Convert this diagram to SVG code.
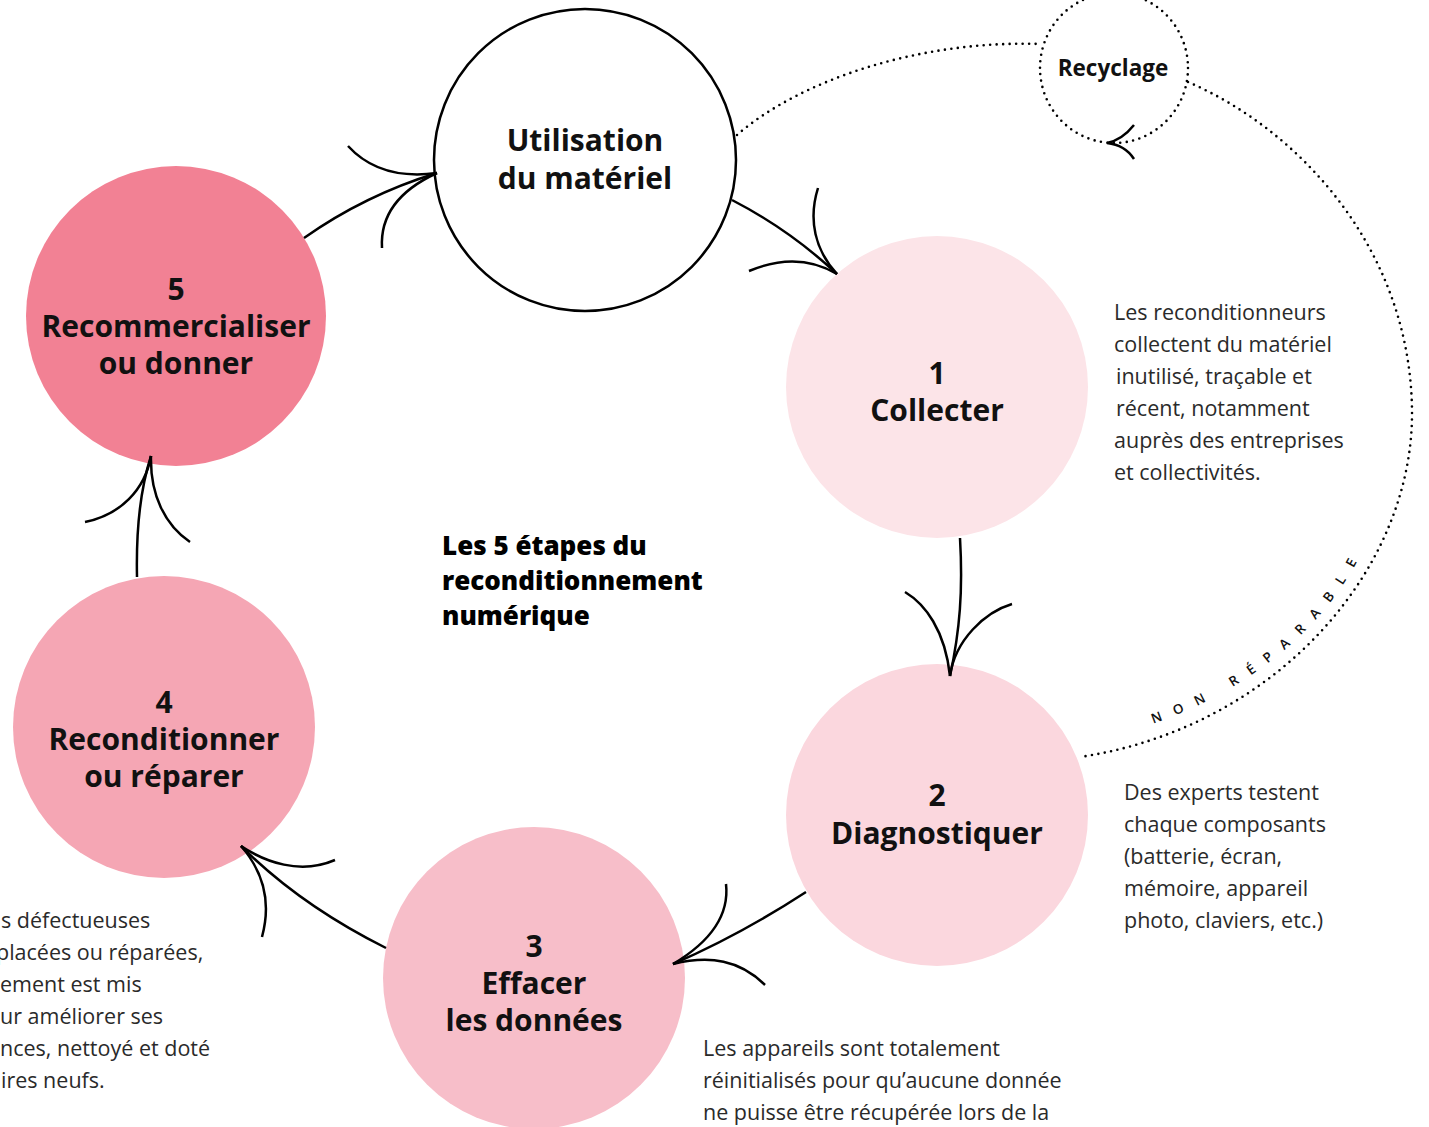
<svg xmlns="http://www.w3.org/2000/svg" width="1429" height="1127" viewBox="0 0 1429 1127">
<defs>
<style>
.lbl{font-family:"Open Sans","Liberation Sans",sans-serif;font-weight:700;font-size:30px;fill:#111;text-anchor:middle}
.desc{font-family:"Open Sans","Liberation Sans",sans-serif;font-size:21.5px;fill:#2a2a2a}
.title{font-family:"Open Sans","Liberation Sans",sans-serif;font-weight:800;font-size:26px;fill:#000}
.con{fill:none;stroke:#000;stroke-width:2.5;stroke-linecap:butt}
.dot{fill:none;stroke:#000;stroke-width:2.6;stroke-linecap:round;stroke-dasharray:0 6.5}
.np{font-family:"Open Sans","Liberation Sans",sans-serif;font-weight:600;font-size:13.5px;letter-spacing:13px;fill:#111}
</style>
<path id="npPath" d="M1140,728 C1230,700 1320,640 1364,548"/>
</defs>
<rect width="1429" height="1127" fill="#fff"/>

<g id="dotted">
<path class="dot" d="M737,135 C800,80 920,40 1040,44"/>
<path class="dot" d="M1188,82 C1300,130 1410,250 1412,410 C1414,570 1275,728 1080,757"/>
</g>

<g id="node-recyclage">
<ellipse class="dot" cx="1114" cy="68" rx="74" ry="75"/>
<text x="1113" y="76" style="font-family:'Open Sans','Liberation Sans',sans-serif;font-weight:700;font-size:22.5px;fill:#111;text-anchor:middle">Recyclage</text>
<path class="con" d="M1134,125 Q1122,140 1107,143 Q1125,145 1134,159"/>
</g>

<g id="node-utilisation">
<circle cx="585" cy="160" r="151" fill="#fff" stroke="#000" stroke-width="2.5"/>
<text class="lbl" x="585" y="151">Utilisation</text>
<text class="lbl" x="585" y="189">du matériel</text>
</g>

<g id="node-1">
<circle cx="937" cy="387" r="151" fill="#fce4e8"/>
<text class="lbl" x="937" y="384">1</text>
<text class="lbl" x="937" y="421">Collecter</text>
</g>

<g id="node-2">
<circle cx="937" cy="815" r="151" fill="#fbd7de"/>
<text class="lbl" x="937" y="806">2</text>
<text class="lbl" x="937" y="844">Diagnostiquer</text>
</g>

<g id="node-3">
<circle cx="534" cy="978" r="151" fill="#f7bec9"/>
<text class="lbl" x="534" y="957">3</text>
<text class="lbl" x="534" y="994">Effacer</text>
<text class="lbl" x="534" y="1031">les données</text>
</g>

<g id="node-4">
<circle cx="164" cy="727" r="151" fill="#f5a6b4"/>
<text class="lbl" x="164" y="713">4</text>
<text class="lbl" x="164" y="750">Reconditionner</text>
<text class="lbl" x="164" y="787">ou réparer</text>
</g>

<g id="node-5">
<circle cx="176" cy="316" r="150" fill="#f28194"/>
<text class="lbl" x="176" y="300">5</text>
<text class="lbl" x="176" y="337">Recommercialiser</text>
<text class="lbl" x="176" y="374">ou donner</text>
</g>

<g id="connectors">
<path class="con" d="M732,200 Q790,230 837,274"/>
<path class="con" d="M818,188 C808,220 815,250 837,274"/>
<path class="con" d="M749,271 C780,258 810,258 837,274"/>

<path class="con" d="M960,538 C963,590 960,630 950,676"/>
<path class="con" d="M905,592 C925,604 945,630 950,676"/>
<path class="con" d="M1012,604 C985,612 955,640 950,676"/>

<path class="con" d="M806,892 Q740,935 673,964"/>
<path class="con" d="M726,884 C730,920 705,945 673,964"/>
<path class="con" d="M765,985 C740,960 710,955 673,964"/>

<path class="con" d="M386,948 Q300,905 241,846"/>
<path class="con" d="M335,860 C300,875 265,862 241,846"/>
<path class="con" d="M262,937 C272,900 262,870 241,846"/>

<path class="con" d="M137,577 C136,530 140,490 151,456"/>
<path class="con" d="M85,522 C120,515 145,490 151,456"/>
<path class="con" d="M190,542 C165,525 150,495 151,456"/>

<path class="con" d="M304,238 Q365,195 437,173"/>
<path class="con" d="M348,146 C370,170 400,178 437,173"/>
<path class="con" d="M382,248 C380,215 400,190 437,173"/>
</g>

<text class="np"><textPath href="#npPath" startOffset="14">NON RÉPARABLE</textPath></text>

<g id="title">
<text class="title" x="442" y="555">Les 5 étapes du</text>
<text class="title" x="442" y="590">reconditionnement</text>
<text class="title" x="442" y="625">numérique</text>
</g>

<g id="desc-1">
<text class="desc" x="1114" y="320">Les reconditionneurs</text>
<text class="desc" x="1114" y="352">collectent du matériel</text>
<text class="desc" x="1116" y="384">inutilisé, traçable et</text>
<text class="desc" x="1116" y="416">récent, notamment</text>
<text class="desc" x="1114" y="448">auprès des entreprises</text>
<text class="desc" x="1114" y="480">et collectivités.</text>
</g>

<g id="desc-2">
<text class="desc" x="1124" y="800">Des experts testent</text>
<text class="desc" x="1124" y="832">chaque composants</text>
<text class="desc" x="1124" y="864">(batterie, écran,</text>
<text class="desc" x="1124" y="896">mémoire, appareil</text>
<text class="desc" x="1124" y="928">photo, claviers, etc.)</text>
</g>

<g id="desc-3">
<text class="desc" x="703" y="1056">Les appareils sont totalement</text>
<text class="desc" x="703" y="1088">réinitialisés pour qu’aucune donnée</text>
<text class="desc" x="703" y="1120">ne puisse être récupérée lors de la</text>
</g>

<g id="desc-4">
<text class="desc" x="1" y="928">s défectueuses</text>
<text class="desc" x="-4" y="960">placées ou réparées,</text>
<text class="desc" x="0" y="992">ement est mis</text>
<text class="desc" x="0" y="1024">ur améliorer ses</text>
<text class="desc" x="0" y="1056">nces, nettoyé et doté</text>
<text class="desc" x="1" y="1088">ires neufs.</text>
</g>
</svg>
